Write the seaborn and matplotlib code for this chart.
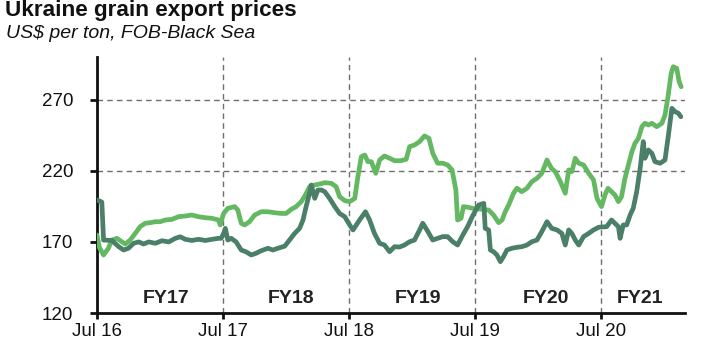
import matplotlib
matplotlib.use("Agg")
import matplotlib.pyplot as plt
import pandas as pd
import seaborn as sns

# Weekly-ish FOB Black Sea quotes, US$ per ton
corn_dates = [
    "2016-07-01", "2016-07-15", "2016-07-20", "2016-08-13", "2016-09-02", "2016-09-16",
    "2016-09-30", "2016-10-15", "2016-10-30", "2016-11-13", "2016-11-28", "2016-12-17",
    "2017-01-05", "2017-01-25", "2017-02-13", "2017-02-27", "2017-03-14", "2017-04-02",
    "2017-04-21", "2017-05-11", "2017-05-30", "2017-06-18", "2017-06-26", "2017-07-03",
    "2017-07-08", "2017-07-15", "2017-07-25", "2017-08-08", "2017-08-23", "2017-09-06",
    "2017-09-21", "2017-10-05", "2017-10-20", "2017-11-08", "2017-11-23", "2017-12-07",
    "2017-12-27", "2018-01-10", "2018-01-25", "2018-02-08", "2018-02-18", "2018-02-27",
    "2018-03-09", "2018-03-14", "2018-03-24", "2018-04-02", "2018-04-12", "2018-04-22",
    "2018-05-06", "2018-05-21", "2018-06-04", "2018-06-19", "2018-07-03", "2018-07-13",
    "2018-08-01", "2018-08-18", "2018-08-30", "2018-09-13", "2018-09-28", "2018-10-12",
    "2018-10-27", "2018-11-10", "2018-11-25", "2018-12-09", "2018-12-24", "2019-01-07",
    "2019-01-22", "2019-01-31", "2019-02-15", "2019-03-01", "2019-03-15", "2019-03-30",
    "2019-04-13", "2019-04-28", "2019-05-12", "2019-05-27", "2019-06-10", "2019-06-25",
    "2019-07-12", "2019-07-27", "2019-07-31", "2019-08-10", "2019-08-15", "2019-08-24",
    "2019-09-03", "2019-09-13", "2019-09-22", "2019-10-02", "2019-10-16", "2019-10-31",
    "2019-11-14", "2019-11-29", "2019-12-13", "2019-12-28", "2020-01-11", "2020-01-26",
    "2020-02-09", "2020-02-24", "2020-03-09", "2020-03-19", "2020-03-29", "2020-04-07",
    "2020-04-17", "2020-04-27", "2020-05-11", "2020-05-26", "2020-06-09", "2020-06-24",
    "2020-07-17", "2020-07-31", "2020-08-10", "2020-08-20", "2020-08-25", "2020-09-03",
    "2020-09-13", "2020-09-23", "2020-10-02", "2020-10-12", "2020-10-22", "2020-10-31",
    "2020-11-05", "2020-11-15", "2020-11-25", "2020-12-04", "2020-12-19", "2021-01-02",
    "2021-01-12", "2021-01-22", "2021-01-31", "2021-02-10", "2021-02-17",
]
corn_prices = [
    199.5, 198.0, 171.3, 171.0, 166.6, 164.3,
    165.5, 169.0, 170.0, 168.5, 170.0, 169.0,
    170.8, 170.0, 172.5, 173.6, 171.8, 171.0,
    171.8, 171.0, 171.8, 172.5, 172.5, 176.0,
    179.5, 171.3, 172.5, 170.0, 164.3, 163.0,
    160.8, 162.0, 163.8, 165.5, 164.3, 165.5,
    167.0, 171.3, 176.0, 179.5, 185.4, 194.8,
    204.2, 210.0, 200.6, 206.5, 206.5, 205.3,
    200.6, 194.8, 190.0, 187.7, 182.0, 178.4,
    185.4, 191.2, 185.4, 176.0, 169.0, 167.8,
    163.1, 166.6, 166.4, 167.8, 170.1, 171.3,
    178.4, 183.1, 177.2, 171.3, 172.5, 173.7,
    173.7, 170.1, 167.8, 174.8, 180.7, 188.5,
    195.9, 197.1, 179.5, 178.4, 164.3, 163.1,
    160.8, 156.1, 159.6, 164.3, 165.5, 166.2,
    166.6, 167.8, 170.1, 171.3, 177.2, 184.2,
    179.5, 178.4, 176.0, 167.8, 178.4, 176.0,
    171.3, 167.8, 173.7, 176.0, 178.4, 180.3,
    180.7, 185.4, 183.1, 180.7, 172.5, 181.9,
    181.9, 188.9, 193.6, 205.3, 221.7, 240.5,
    228.8, 234.6, 232.3, 226.4, 225.3, 227.6,
    245.2, 263.9, 261.6, 260.4, 258.0,
]

wheat_dates = [
    "2016-07-01", "2016-07-08", "2016-07-20", "2016-08-03", "2016-08-13", "2016-08-28",
    "2016-09-11", "2016-09-21", "2016-10-05", "2016-10-20", "2016-11-03", "2016-11-18",
    "2016-12-02", "2016-12-17", "2016-12-31", "2017-01-15", "2017-02-03", "2017-02-22",
    "2017-03-14", "2017-04-02", "2017-04-21", "2017-05-11", "2017-05-30", "2017-06-18",
    "2017-06-23", "2017-07-03", "2017-07-15", "2017-08-04", "2017-08-13", "2017-08-23",
    "2017-09-02", "2017-09-16", "2017-10-01", "2017-10-20", "2017-11-08", "2017-11-28",
    "2017-12-17", "2017-12-31", "2018-01-15", "2018-01-29", "2018-02-13", "2018-02-25",
    "2018-03-09", "2018-03-24", "2018-04-07", "2018-04-22", "2018-05-11", "2018-05-25",
    "2018-06-04", "2018-06-19", "2018-07-03", "2018-07-18", "2018-07-27", "2018-08-06",
    "2018-08-16", "2018-08-25", "2018-09-04", "2018-09-17", "2018-09-28", "2018-10-12",
    "2018-10-27", "2018-11-10", "2018-11-29", "2018-12-14", "2018-12-24", "2019-01-07",
    "2019-01-22", "2019-02-05", "2019-02-18", "2019-03-01", "2019-03-15", "2019-03-30",
    "2019-04-13", "2019-04-26", "2019-05-07", "2019-05-12", "2019-05-22", "2019-05-29",
    "2019-06-10", "2019-06-25", "2019-07-22", "2019-08-10", "2019-08-24", "2019-09-08",
    "2019-09-18", "2019-09-27", "2019-10-07", "2019-10-21", "2019-10-31", "2019-11-14",
    "2019-11-29", "2019-12-13", "2019-12-28", "2020-01-11", "2020-01-26", "2020-02-08",
    "2020-02-19", "2020-03-05", "2020-03-19", "2020-03-29", "2020-04-07", "2020-04-17",
    "2020-04-27", "2020-05-11", "2020-05-26", "2020-06-09", "2020-06-19", "2020-07-02",
    "2020-07-12", "2020-07-21", "2020-07-31", "2020-08-10", "2020-08-20", "2020-08-29",
    "2020-09-08", "2020-09-18", "2020-09-28", "2020-10-07", "2020-10-17", "2020-10-27",
    "2020-11-05", "2020-11-15", "2020-11-25", "2020-12-09", "2020-12-24", "2021-01-02",
    "2021-01-10", "2021-01-20", "2021-01-26", "2021-02-05", "2021-02-12", "2021-02-18",
]
wheat_prices = [
    174.8, 166.0, 160.8, 165.5, 171.3, 172.5,
    170.1, 168.5, 171.3, 176.0, 180.7, 183.1,
    183.5, 184.2, 184.2, 185.4, 185.8, 187.7,
    188.2, 188.9, 187.7, 187.0, 186.6, 185.4,
    181.9, 190.0, 193.6, 194.8, 192.4, 183.1,
    181.9, 184.2, 188.9, 191.2, 191.2, 190.5,
    190.0, 190.0, 192.9, 194.8, 198.3, 203.0,
    208.8, 210.0, 210.7, 211.6, 211.2, 208.8,
    201.8, 199.0, 198.3, 200.6, 215.8, 229.9,
    231.1, 226.4, 226.4, 218.2, 227.6, 230.4,
    228.8, 227.1, 227.1, 228.1, 237.0, 238.1,
    240.5, 244.5, 242.8, 232.3, 225.3, 225.3,
    224.1, 220.6, 206.5, 185.4, 186.6, 194.8,
    194.4, 193.6, 192.9, 192.4, 188.9, 183.5,
    185.4, 191.2, 195.9, 204.2, 207.7, 205.3,
    207.7, 212.3, 214.7, 218.2, 227.6, 221.7,
    219.4, 212.3, 204.2, 220.6, 219.4, 228.8,
    225.3, 224.1, 218.2, 213.5, 200.6, 194.8,
    203.0, 207.7, 205.3, 203.0, 198.3, 201.8,
    214.7, 224.1, 233.4, 239.3, 242.8, 251.0,
    253.4, 252.2, 253.4, 251.0, 253.4, 259.2,
    270.9, 288.5, 293.2, 292.0, 282.6, 279.1,
]

year_ticks = ["2016-07-01", "2017-07-01", "2018-07-01", "2019-07-01", "2020-07-01"]
year_labels = ["Jul 16", "Jul 17", "Jul 18", "Jul 19", "Jul 20"]
fy_labels = ["FY17", "FY18", "FY19", "FY20", "FY21"]
fy_label_dates = ["2017-01-17", "2018-01-14", "2019-01-17", "2020-01-23", "2020-10-22"]
y_ticks = [120, 170, 220, 270]

LIGHT = "#64b862"
DARK = "#4a7f68"
GRID = "#6e6e6e"

sns.set_theme(style="white")
plt.rcParams["font.family"] = ["Liberation Sans", "DejaVu Sans"]

df = pd.concat([
    pd.DataFrame({"date": pd.to_datetime(wheat_dates), "price": wheat_prices, "grain": "Wheat"}),
    pd.DataFrame({"date": pd.to_datetime(corn_dates), "price": corn_prices, "grain": "Corn"}),
])

fig = plt.figure(figsize=(7.22, 3.47), dpi=100)
ax = fig.add_axes([97 / 722, 34 / 347, 588 / 722, 256 / 347])

sns.lineplot(data=df, x="date", y="price", hue="grain",
             palette={"Wheat": LIGHT, "Corn": DARK}, hue_order=["Wheat", "Corn"],
             linewidth=3.4, legend=False, ax=ax, zorder=3)

ax.set_xlim(pd.Timestamp("2016-07-01"), pd.Timestamp("2021-03-01"))
ax.set_ylim(120, 300)

# dashed reference lines
for v in (220, 270):
    ax.axhline(v, color=GRID, lw=1.0, ls=(0, (4, 3)), zorder=1)
for d in year_ticks[1:]:
    ax.axvline(pd.Timestamp(d), color=GRID, lw=1.0, ls=(0, (4, 3)), zorder=1)

ax.set_yticks(y_ticks)
ax.set_yticklabels([str(v) for v in y_ticks])
ax.set_xticks([pd.Timestamp(d) for d in year_ticks])
ax.set_xticklabels(year_labels)
ax.set_xlabel("")
ax.set_ylabel("")

for side in ("top", "right"):
    ax.spines[side].set_visible(False)
for side in ("left", "bottom"):
    ax.spines[side].set_color("#111111")
    ax.spines[side].set_linewidth(2.0)

ax.tick_params(axis="y", which="major", length=5, width=2, color="#111111",
               labelsize=13.5, pad=12, left=True, labelcolor="#111111")
ax.tick_params(axis="x", which="major", length=4, width=2, color="#111111",
               labelsize=13.5, pad=3, bottom=True, labelcolor="#111111")

for lab, d in zip(fy_labels, fy_label_dates):
    ax.text(pd.Timestamp(d), 130.5, lab, ha="center", va="center",
            fontsize=14, fontweight="bold", color="#222222", zorder=4)

fig.text(5 / 722, 1 - 16 / 347, "Ukraine grain export prices", fontsize=16.2,
         fontweight="bold", color="#111111", va="baseline", ha="left")
fig.text(6 / 722, 1 - 37.5 / 347, "US$ per ton, FOB-Black Sea", fontsize=14,
         style="italic", color="#111111", va="baseline", ha="left")

fig.savefig("out.png", dpi=100)
